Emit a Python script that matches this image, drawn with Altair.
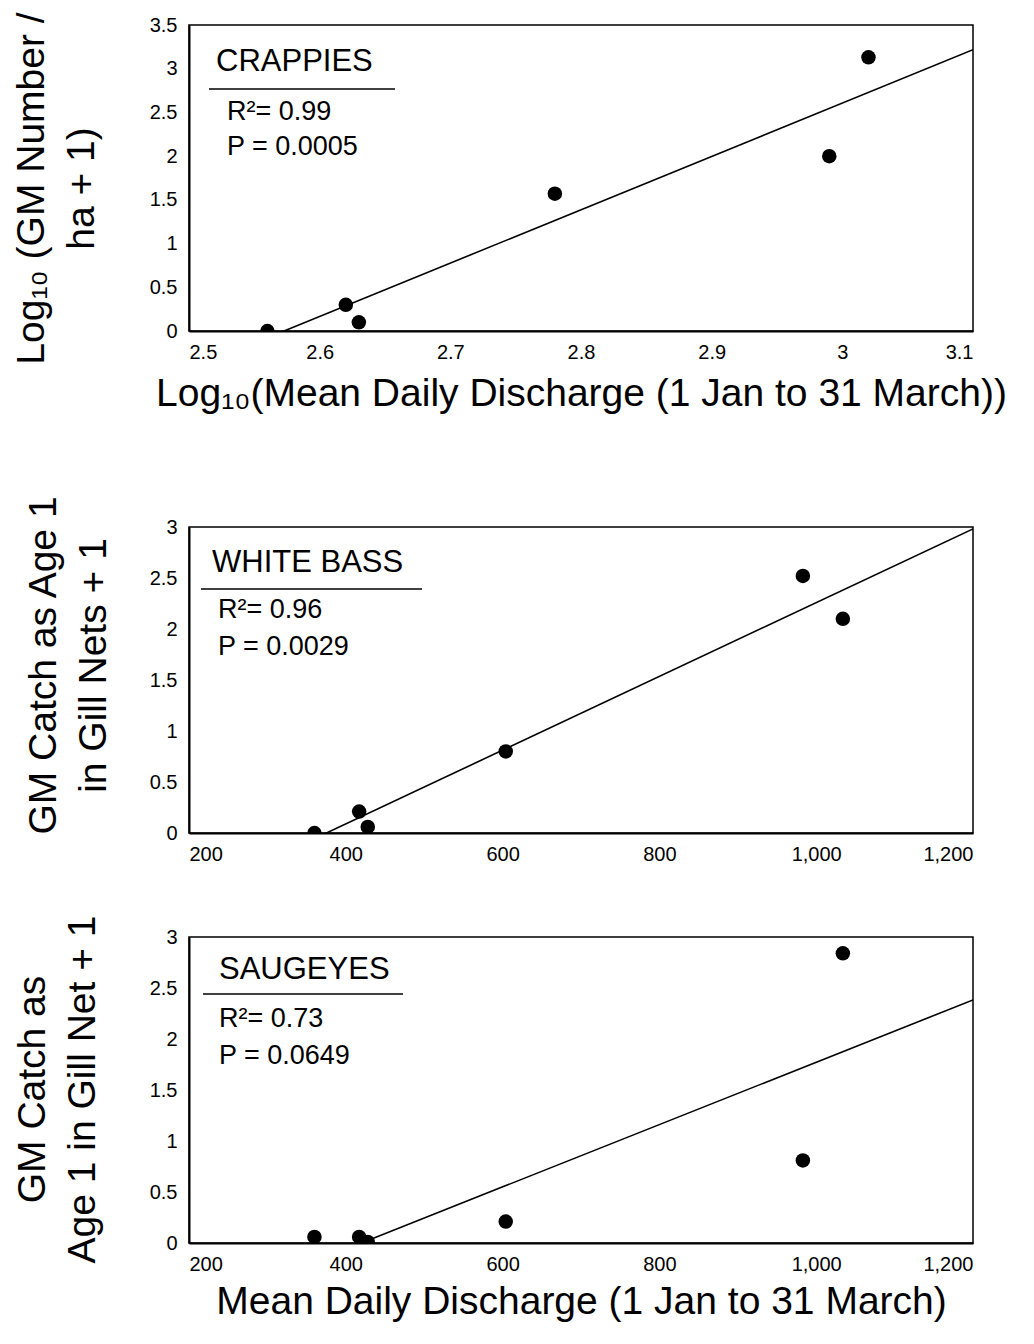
import altair as alt
import pandas as pd

FONT = "Liberation Sans"

# ---- data ----
crappie_x = [2.56, 2.62, 2.63, 2.78, 2.99, 3.02]
crappie_y = [0.0, 0.30, 0.10, 1.57, 2.00, 3.13]

whitebass_x = [360, 417, 428, 604, 983, 1034]
whitebass_y = [0.0, 0.21, 0.06, 0.80, 2.52, 2.10]

saugeye_x = [360, 417, 428, 604, 983, 1034]
saugeye_y = [0.06, 0.06, 0.01, 0.21, 0.81, 2.84]

x1_ticks = [2.5, 2.6, 2.7, 2.8, 2.9, 3.0, 3.1]
x2_ticks = [200, 400, 600, 800, 1000, 1200]
y1_ticks = [0, 0.5, 1, 1.5, 2, 2.5, 3, 3.5]
y2_ticks = [0, 0.5, 1, 1.5, 2, 2.5, 3]

labels = ["CRAPPIES", "WHITE BASS", "SAUGEYES"]
r2_text = ["R\u00b2= 0.99", "R\u00b2= 0.96", "R\u00b2= 0.73"]
p_text = ["P = 0.0005", "P = 0.0029", "P = 0.0649"]

W, H = 784, 306
LBL = 20
TTL = 39


def panel(xs, ys, xdom, xticks, xfmt, ydom, yticks, ytitle, tx, ty, xtitle, tpad,
          label, r2, p, ann):
    df = pd.DataFrame({"x": xs, "y": ys})
    xax = dict(values=xticks, format=xfmt, labelPadding=11, labelFontSize=LBL,
               labelFont=FONT, labelColor="black")
    if xtitle:
        xax.update(title=xtitle, titlePadding=tpad, titleFontSize=TTL, titleFont=FONT)
    else:
        xax.update(title=None)
    xenc = alt.X("x:Q", scale=alt.Scale(domain=xdom, nice=False, zero=False),
                 axis=alt.Axis(**xax))
    yenc = alt.Y("y:Q", scale=alt.Scale(domain=ydom, nice=False),
                 axis=alt.Axis(values=yticks, format="~g", labelPadding=12,
                               labelFontSize=LBL, labelFont=FONT, labelColor="black",
                               title=ytitle, titleX=tx, titleY=ty, titleFontSize=TTL,
                               titleFont=FONT,
                               titleAngle=-90, titleAlign="center",
                               titleBaseline="top", titleLineHeight=50))
    base = alt.Chart(df)
    pts = base.mark_circle(size=210, color="black", opacity=1, clip=True).encode(x=xenc, y=yenc)
    line = base.transform_regression("x", "y", extent=xdom).mark_line(
        color="black", strokeWidth=1.6, clip=True).encode(x="x:Q", y="y:Q")

    lab_df = pd.DataFrame({"t": [label], "r": [r2], "p": [p]})
    lab = alt.Chart(lab_df).mark_text(align="left", baseline="alphabetic", fontSize=31,
                                      font=FONT, color="black").encode(
        x=alt.value(ann["lx"]), y=alt.value(ann["ly"]), text="t:N")
    rule = alt.Chart(lab_df).mark_rule(color="black", strokeWidth=1.6).encode(
        x=alt.value(ann["rx1"]), x2=alt.value(ann["rx2"]), y=alt.value(ann["ry"]))
    rtxt = alt.Chart(lab_df).mark_text(align="left", baseline="alphabetic", fontSize=27,
                                       font=FONT, color="black").encode(
        x=alt.value(ann["sx"]), y=alt.value(ann["r2y"]), text="r:N")
    ptxt = alt.Chart(lab_df).mark_text(align="left", baseline="alphabetic", fontSize=27,
                                       font=FONT, color="black").encode(
        x=alt.value(ann["sx"]), y=alt.value(ann["py"]), text="p:N")
    return alt.layer(line, pts, lab, rule, rtxt, ptxt).properties(width=W, height=H)


p1 = panel(crappie_x, crappie_y, [2.5, 3.1], x1_ticks, "~g", [0, 3.5], y1_ticks,
           ["Log\u2081\u2080 (GM Number /", "ha + 1)"], -177, 163,
           "Log\u2081\u2080(Mean Daily Discharge (1 Jan to 31 March))", 12,
           labels[0], r2_text[0], p_text[0],
           dict(lx=27, ly=46, rx1=20, rx2=206, ry=64, sx=38, r2y=95, py=130))
p2 = panel(whitebass_x, whitebass_y, [200, 1200], x2_ticks, ",d", [0, 3], y2_ticks,
           ["GM Catch as Age 1", "in Gill Nets + 1"], -165, 138, None, 12,
           labels[1], r2_text[1], p_text[1],
           dict(lx=23, ly=45, rx1=12, rx2=233, ry=62, sx=29, r2y=91, py=128))
p3 = panel(saugeye_x, saugeye_y, [200, 1200], x2_ticks, ",d", [0, 3], y2_ticks,
           ["GM Catch as", "Age 1 in Gill Net + 1"], -176, 152,
           "Mean Daily Discharge (1 Jan to 31 March)", 8,
           labels[2], r2_text[2], p_text[2],
           dict(lx=30, ly=42, rx1=14, rx2=214, ry=57, sx=30, r2y=90, py=127))

chart = alt.vconcat(p1, alt.vconcat(p2, p3, spacing=49), spacing=80).properties(
    padding={"left": 3, "top": 3, "right": 0, "bottom": 0}
).configure_view(stroke="black", strokeWidth=1.5).configure_axis(
    grid=False, ticks=False, domainColor="black", domainWidth=2,
    labelFont=FONT, labelFontSize=LBL, labelColor="black",
    titleFont=FONT, titleFontSize=TTL, titleColor="black", titleFontWeight="normal"
)

chart.save("out.html", embed_options={"renderer": "svg", "actions": False})
